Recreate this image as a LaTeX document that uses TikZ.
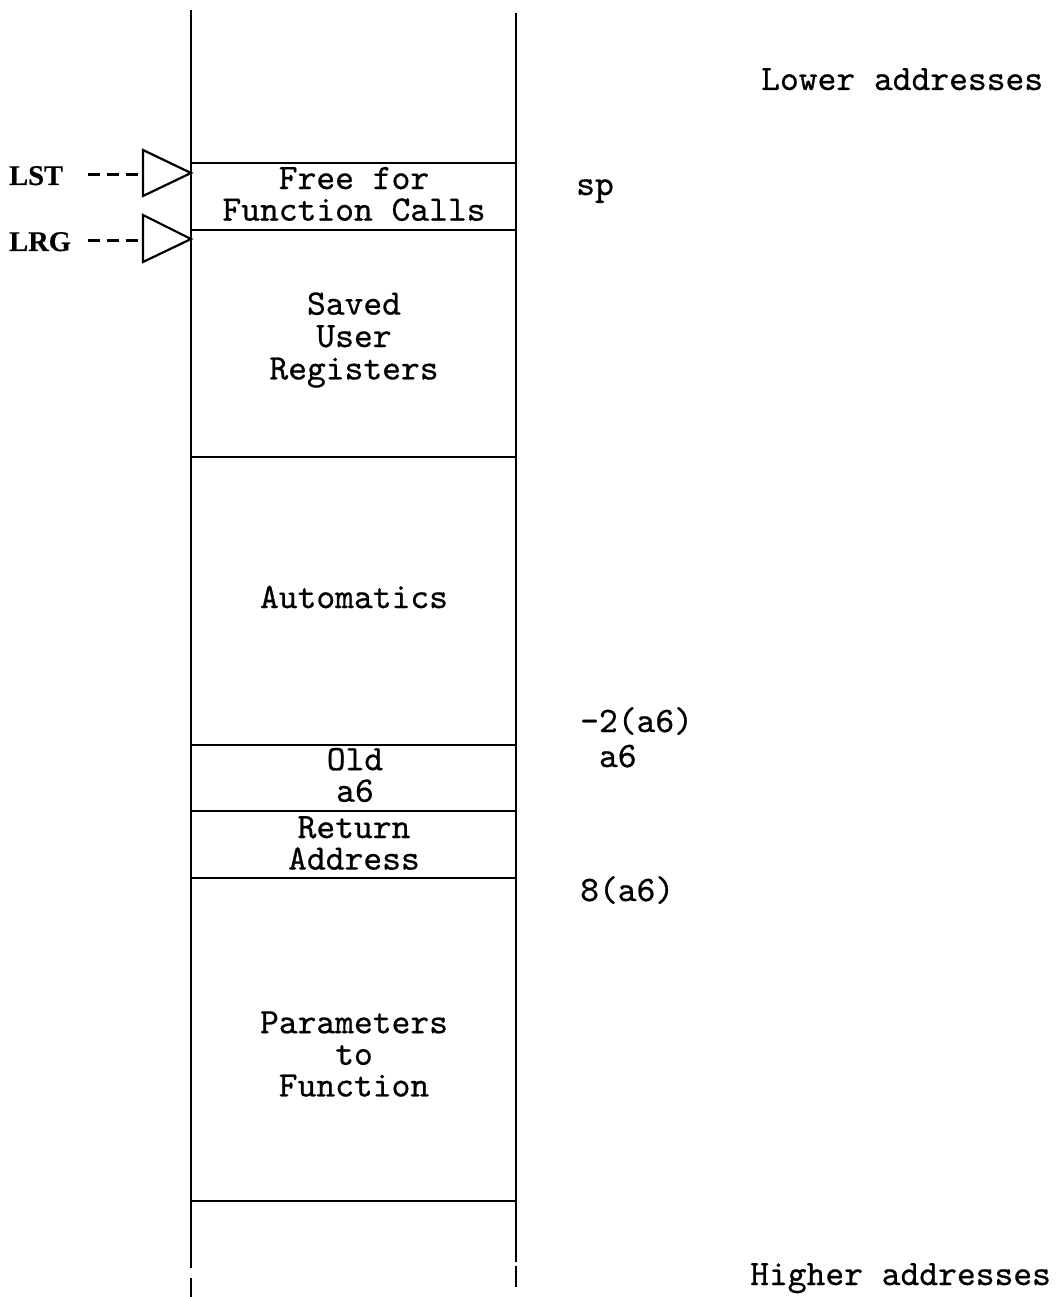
\documentclass[tikz,border=0pt]{standalone}
\usepackage{fontspec}
\newfontfamily\monofont{lmmono10-regular}[Extension=.otf, FakeBold=0.6]
\newfontfamily\lblfont{Liberation Serif}[FakeBold=0.5]
\begin{document}
\begin{tikzpicture}[x=1pt,y=-1pt,
  rule/.style={line width=2.6pt, line cap=butt},
  hrule/.style={line width=2.3pt, line cap=butt},
  boxtext/.style={font=\monofont\fontsize{35.8}{31.6}\selectfont, align=center, inner sep=0pt},
  sidetext/.style={font=\monofont\fontsize{35.8}{31.6}\selectfont, inner sep=0pt, anchor=base west},
  ptrlabel/.style={font=\lblfont\bfseries\fontsize{28.5}{28.5}\selectfont, inner sep=0pt, anchor=base west},
  ptrtri/.style={line width=2.2pt, line join=miter},
  ptrdash/.style={line width=3pt, dash pattern=on 12pt off 7pt}]
\useasboundingbox (0,0) rectangle (1059,1297);
% stack edges
\coordinate (L0) at (191,10);   \coordinate (L1) at (191,1268);
\coordinate (L2) at (191,1278); \coordinate (L3) at (191,1297);
\coordinate (R0) at (516,13);   \coordinate (R1) at (516,1262);
\coordinate (R2) at (516,1266); \coordinate (R3) at (516,1287);
\draw[rule] (L0) -- (L1);
\draw[rule] (L2) -- (L3);
\draw[rule] (R0) -- (R1);
\draw[rule] (R2) -- (R3);
% frame boundaries
\foreach \n/\yy in {a/163, b/230, c/457, d/745, e/811, f/878, g/1201}{
  \coordinate (h\n l) at (191,\yy);
  \coordinate (h\n r) at (516,\yy);
  \draw[hrule] (h\n l) -- (h\n r);
}
% box texts
\node[boxtext] (free) at (354,194) {Free for\\Function Calls};
\node[boxtext] (saved) at (354,340) {Saved\\[0.8pt]User\\[0.8pt]Registers};
\node[boxtext] (autom) at (354,597) {Automatics};
\node[boxtext] (olda6) at (355,775) {Old\\a6};
\node[boxtext] (ret) at (354,843) {Return\\Address};
\node[boxtext] (params) at (354,1054) {Parameters\\to\\Function};
% side labels
\node[sidetext] (sp) at (576,195) {sp};
\node[sidetext] (m2) at (580,732) {-2(a6)};
\node[sidetext] (a6) at (580,767) {~a6};
\node[sidetext] (p8) at (580,901) {8(a6)};
\node[sidetext] (lower) at (761,90) {Lower addresses};
\node[sidetext] (higher) at (750,1285) {Higher addresses};
% pointers
\node[ptrlabel] (lst) at (9,185) {LST};
\node[ptrlabel] (lrg) at (9,251) {LRG};
\coordinate (lstd) at (88,175); \coordinate (lstb) at (143,175);
\coordinate (lrgd) at (88,241); \coordinate (lrgb) at (143,241);
\draw[ptrdash] (lstd) -- (lstb);
\draw[ptrdash] (lrgd) -- (lrgb);
\draw[ptrtri] (143,150) -- (191,173) -- (143,196) -- cycle;
\draw[ptrtri] (143,215) -- (191,239) -- (143,262) -- cycle;
\end{tikzpicture}
\end{document}
